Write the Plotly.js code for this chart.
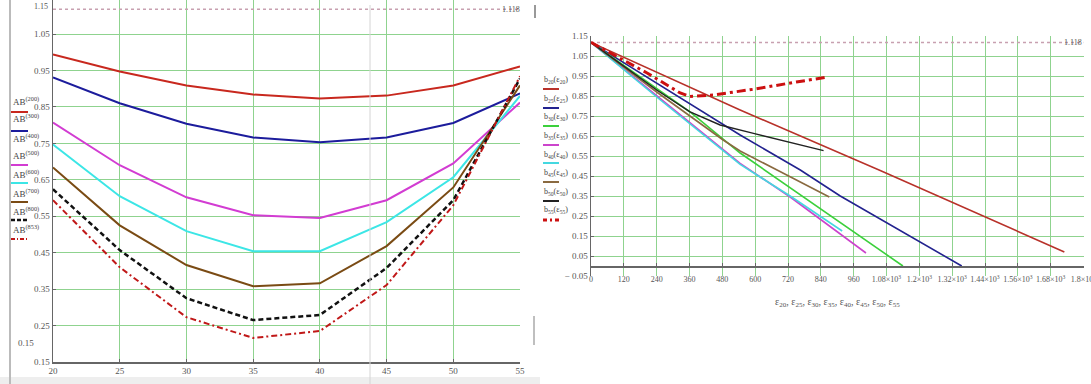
<!DOCTYPE html>
<html>
<head>
<meta charset="utf-8">
<script src="https://cdn.plot.ly/plotly-3.0.1.min.js"></script>
<style>html,body{margin:0;padding:0;background:#fff;}#chart{width:1091px;height:384px;}</style>
</head>
<body>
<div id="chart"></div>
<script>
// ---------- Left chart data ----------
const xAB = [20, 25, 30, 35, 40, 45, 50, 55];
const AB200 = [0.994, 0.947, 0.909, 0.884, 0.873, 0.881, 0.909, 0.961];
const AB300 = [0.931, 0.860, 0.804, 0.766, 0.753, 0.766, 0.806, 0.887];
const AB500 = [0.807, 0.690, 0.602, 0.553, 0.545, 0.594, 0.695, 0.862];
const AB600 = [0.747, 0.605, 0.509, 0.454, 0.454, 0.534, 0.657, 0.880];
const AB700 = [0.684, 0.525, 0.416, 0.358, 0.366, 0.468, 0.629, 0.909];
const AB800 = [0.624, 0.457, 0.325, 0.265, 0.279, 0.408, 0.594, 0.928];
const AB853 = [0.594, 0.410, 0.273, 0.216, 0.235, 0.361, 0.580, 0.934];
const refLevel = 1.118;
const leftXTicks = [20, 25, 30, 35, 40, 45, 50, 55];
const leftYTicks = [0.15, 0.25, 0.35, 0.45, 0.55, 0.65, 0.75, 0.85, 0.95, 1.05];
const leftLegendLabels = ["AB<sup>(200)</sup>", "AB<sup>(300)</sup>", "AB<sup>(400)</sup>", "AB<sup>(500)</sup>",
                          "AB<sup>(600)</sup>", "AB<sup>(700)</sup>", "AB<sup>(800)</sup>", "AB<sup>(853)</sup>"];

// ---------- Right chart data ----------
const eps20 = [0, 545, 1057, 1343, 1730];
const b20   = [1.118, 0.780, 0.478, 0.305, 0.070];
const eps25 = [0, 472, 545, 765, 911, 1355];
const b25   = [1.118, 0.720, 0.655, 0.480, 0.350, 0.000];
const eps30 = [0, 362, 545, 1140];
const b30   = [1.118, 0.770, 0.565, 0.000];
const eps35 = [0, 240, 545, 728, 1005];
const b35   = [1.118, 0.852, 0.513, 0.345, 0.065];
const eps40 = [0, 240, 545, 728, 918];
const b40   = [1.118, 0.845, 0.508, 0.350, 0.175];
const eps45 = [0, 240, 483, 545, 680, 871];
const b45   = [1.118, 0.870, 0.630, 0.575, 0.480, 0.345];
const eps50 = [0, 240, 362, 472, 594, 850];
const b50   = [1.118, 0.880, 0.771, 0.705, 0.663, 0.577];
const eps55 = [0, 205, 326, 362, 446, 600, 750, 867];
const b55   = [1.118, 0.965, 0.865, 0.848, 0.855, 0.885, 0.920, 0.945];
const rightXTicks = [0, 120, 240, 360, 480, 600, 720, 840, 960, 1080, 1200, 1320, 1440, 1560, 1680, 1800];
const rightXText = ["0", "120", "240", "360", "480", "600", "720", "840", "960",
  "1.08×10<sup>3</sup>", "1.2×10<sup>3</sup>", "1.32×10<sup>3</sup>", "1.44×10<sup>3</sup>",
  "1.56×10<sup>3</sup>", "1.68×10<sup>3</sup>", "1.8×10<sup>3</sup>"];
const rightYTicks = [-0.05, 0.05, 0.15, 0.25, 0.35, 0.45, 0.55, 0.65, 0.75, 0.85, 0.95, 1.05, 1.15];
const rightYText = ["\u2212 0.05", "0.05", "0.15", "0.25", "0.35", "0.45", "0.55", "0.65", "0.75", "0.85", "0.95", "1.05", "1.15"];
const rightLegendLabels = ["b<sub>20</sub>(ε<sub>20</sub>)", "b<sub>25</sub>(ε<sub>25</sub>)", "b<sub>30</sub>(ε<sub>30</sub>)",
  "b<sub>35</sub>(ε<sub>35</sub>)", "b<sub>40</sub>(ε<sub>40</sub>)", "b<sub>45</sub>(ε<sub>45</sub>)",
  "b<sub>50</sub>(ε<sub>50</sub>)", "b<sub>55</sub>(ε<sub>55</sub>)"];
const rightXTitle = "ε<sub>20</sub>, ε<sub>25</sub>, ε<sub>30</sub>, ε<sub>35</sub>, ε<sub>40</sub>, ε<sub>45</sub>, ε<sub>50</sub>, ε<sub>55</sub>";

// ---------- styles ----------
const W = 1091, H = 384;
const px = v => v / W;
const py = v => 1 - v / H;
const GRID = '#8fd38f';
const AXC = '#666';
const FONT = 'Liberation Serif, Times New Roman, serif';
const TXT = '#555';

const leftStyles = [
  {c: '#c8281e', d: 'solid', w: 2},
  {c: '#1c1c9c', d: 'solid', w: 2},
  {c: '#d23cd2', d: 'solid', w: 2},
  {c: '#3ce6e6', d: 'solid', w: 2},
  {c: '#7a4b14', d: 'solid', w: 2},
  {c: '#111111', d: '5px,3px', w: 2.5},
  {c: '#c01818', d: '6px,3px,2px,3px', w: 2}
];
const leftSeries = [AB200, AB300, AB500, AB600, AB700, AB800, AB853];

const rightStyles = [
  {c: '#b8322a', d: 'solid', w: 1.6},
  {c: '#23238f', d: 'solid', w: 1.6},
  {c: '#3cd03c', d: 'solid', w: 1.6},
  {c: '#cc44cc', d: 'solid', w: 1.6},
  {c: '#44d8e0', d: 'solid', w: 1.6},
  {c: '#8a6a40', d: 'solid', w: 1.6},
  {c: '#222222', d: 'solid', w: 1.4},
  {c: '#cc1010', d: '9px,4px,3px,4px', w: 3}
];
const rightX = [eps20, eps25, eps30, eps35, eps40, eps45, eps50, eps55];
const rightY = [b20, b25, b30, b35, b40, b45, b50, b55];

const traces = [];
// reference dotted lines
traces.push({x: [leftXTicks[0], leftXTicks[leftXTicks.length - 1]], y: [refLevel, refLevel], xaxis: 'x', yaxis: 'y',
  mode: 'lines', line: {color: '#c8a0b0', dash: 'dot', width: 1.5}, hoverinfo: 'skip'});
traces.push({x: [rightXTicks[0], rightXTicks[rightXTicks.length - 1]], y: [refLevel, refLevel], xaxis: 'x2', yaxis: 'y2',
  mode: 'lines', line: {color: '#c8a0b0', dash: 'dot', width: 1.5}, hoverinfo: 'skip'});

leftSeries.forEach((s, i) => traces.push({
  x: xAB, y: s, xaxis: 'x', yaxis: 'y', mode: 'lines',
  line: {color: leftStyles[i].c, dash: leftStyles[i].d, width: leftStyles[i].w}
}));
rightY.forEach((s, i) => traces.push({
  x: rightX[i], y: s, xaxis: 'x2', yaxis: 'y2', mode: 'lines',
  line: {color: rightStyles[i].c, dash: rightStyles[i].d, width: rightStyles[i].w}
}));

// ---------- annotations & legend shapes ----------
const annotations = [];
const shapes = [];

// left legend
const leftTextY = [101, 118, 138, 155, 174, 193, 211, 229];
const leftLineY = [112, 131, null, 165, 183, 202, 220, 239];
const leftLineStyleIdx = [0, 1, null, 2, 3, 4, 5, 6];
leftLegendLabels.forEach((t, i) => {
  annotations.push({xref: 'paper', yref: 'paper', x: px(11), y: py(leftTextY[i]), xanchor: 'left', yanchor: 'middle',
    text: t, showarrow: false, font: {family: FONT, size: 9, color: '#444'}});
  if (leftLineY[i] !== null) {
    const st = leftStyles[leftLineStyleIdx[i]];
    shapes.push({type: 'line', xref: 'paper', yref: 'paper', x0: px(11), x1: px(28), y0: py(leftLineY[i]), y1: py(leftLineY[i]),
      line: {color: st.c, width: st.w, dash: st.d === 'solid' ? 'solid' : (i === 6 ? '4px,2px' : '4px,2px,1px,2px')}});
  }
});

// right legend
const rightTextY = [80, 99, 117, 136, 155, 173, 192, 210];
const rightLineY = [89, 108, 126, 145, 163, 182, 201, 220];
rightLegendLabels.forEach((t, i) => {
  annotations.push({xref: 'paper', yref: 'paper', x: px(542), y: py(rightTextY[i]), xanchor: 'left', yanchor: 'middle',
    text: t, showarrow: false, font: {family: FONT, size: 8, color: '#444'}});
  const st = rightStyles[i];
  shapes.push({type: 'line', xref: 'paper', yref: 'paper', x0: px(543), x1: px(559), y0: py(rightLineY[i]), y1: py(rightLineY[i]),
    line: {color: st.c, width: Math.max(2, st.w), dash: i === 7 ? '4px,3px,2px,3px' : 'solid'}});
});

// extra labels
annotations.push({xref: 'paper', yref: 'paper', x: px(511), y: py(9), text: '1.118', showarrow: false,
  xanchor: 'center', yanchor: 'middle', font: {family: FONT, size: 8, color: '#555'}});
annotations.push({xref: 'paper', yref: 'paper', x: px(1073), y: py(43), text: '1.118', showarrow: false,
  xanchor: 'center', yanchor: 'middle', font: {family: FONT, size: 8, color: '#555'}});
annotations.push({xref: 'paper', yref: 'paper', x: px(50), y: py(6), text: '1.15', showarrow: false,
  xanchor: 'right', yanchor: 'middle', font: {family: FONT, size: 8, color: TXT}});
annotations.push({xref: 'paper', yref: 'paper', x: px(36), y: py(343), text: '0.15', showarrow: false,
  xanchor: 'right', yanchor: 'middle', font: {family: FONT, size: 9, color: TXT}});
annotations.push({xref: 'paper', yref: 'paper', x: px(837), y: py(302), text: rightXTitle, showarrow: false,
  xanchor: 'center', yanchor: 'middle', font: {family: FONT, size: 10, color: TXT}});

// window artefacts
shapes.push({type: 'line', xref: 'paper', yref: 'paper', x0: px(10), x1: px(10), y0: 0, y1: 1, line: {color: '#bbbbbb', width: 2}});
shapes.push({type: 'line', xref: 'paper', yref: 'paper', x0: px(370), x1: px(370), y0: 0, y1: py(5), line: {color: '#d4d4d4', width: 1}});
shapes.push({type: 'line', xref: 'paper', yref: 'paper', x0: px(535), x1: px(535), y0: py(18), y1: py(5), line: {color: '#999999', width: 2}});
shapes.push({type: 'line', xref: 'paper', yref: 'paper', x0: px(534), x1: px(534), y0: py(345), y1: py(316), line: {color: '#aaaaaa', width: 1.5}});
shapes.push({type: 'rect', xref: 'paper', yref: 'paper', x0: 0, x1: px(540), y0: 0, y1: py(377), line: {width: 0}, fillcolor: '#eeeeee', layer: 'below'});

const tickFont = {family: FONT, size: 9, color: TXT};

const layout = {
  width: W, height: H,
  margin: {l: 0, r: 0, t: 0, b: 0, pad: 0},
  paper_bgcolor: '#ffffff', plot_bgcolor: '#ffffff',
  showlegend: false,
  xaxis: {
    domain: [px(53), px(520)], range: [20, 55], anchor: 'y',
    tickmode: 'array', tickvals: leftXTicks, ticktext: leftXTicks.map(String),
    showgrid: true, gridcolor: GRID, gridwidth: 1, zeroline: false,
    showline: true, linecolor: AXC, linewidth: 1.5,
    ticks: 'inside', ticklen: 3, tickcolor: AXC, tickfont: tickFont
  },
  yaxis: {
    domain: [1 - 362 / H, 1], range: [0.15, 1.1434], anchor: 'x',
    tickmode: 'array', tickvals: leftYTicks, ticktext: leftYTicks.map(v => v.toFixed(2)),
    showgrid: true, gridcolor: GRID, gridwidth: 1, zeroline: false,
    showline: true, linecolor: AXC, linewidth: 1.5,
    ticks: 'inside', ticklen: 3, tickcolor: AXC, tickfont: tickFont
  },
  xaxis2: {
    domain: [px(591), px(1083.5)], range: [0, 1800], anchor: 'y2',
    tickmode: 'array', tickvals: rightXTicks, ticktext: rightXText, tickangle: 0,
    showgrid: true, gridcolor: GRID, gridwidth: 1, zeroline: false,
    showline: false, ticks: '', tickfont: {family: FONT, size: 8, color: TXT}, ticklabelstandoff: -3,
    ticklabeloverflow: 'allow'
  },
  yaxis2: {
    domain: [1 - 276 / H, 1 - 36 / H], range: [-0.05, 1.15], anchor: 'x2',
    tickmode: 'array', tickvals: rightYTicks, ticktext: rightYText,
    showgrid: true, gridcolor: GRID, gridwidth: 1, zeroline: false,
    showline: true, linecolor: AXC, linewidth: 1.5,
    ticks: 'inside', ticklen: 3, tickcolor: AXC, tickfont: tickFont
  },
  xaxis3: {
    overlaying: 'x2', anchor: 'free', position: 1 - 266 / H, range: [0, 1800],
    tickmode: 'array', tickvals: rightXTicks, showticklabels: false,
    showgrid: false, zeroline: false, showline: true, linecolor: AXC, linewidth: 1.5,
    ticks: 'inside', ticklen: 3, tickcolor: AXC
  },
  annotations: annotations,
  shapes: shapes
};

// dummy trace to activate xaxis3
traces.push({x: [0], y: [0], xaxis: 'x3', yaxis: 'y2', mode: 'markers', marker: {opacity: 0}, hoverinfo: 'skip'});

Plotly.newPlot('chart', traces, layout, {staticPlot: true, displayModeBar: false});
</script>
</body>
</html>
